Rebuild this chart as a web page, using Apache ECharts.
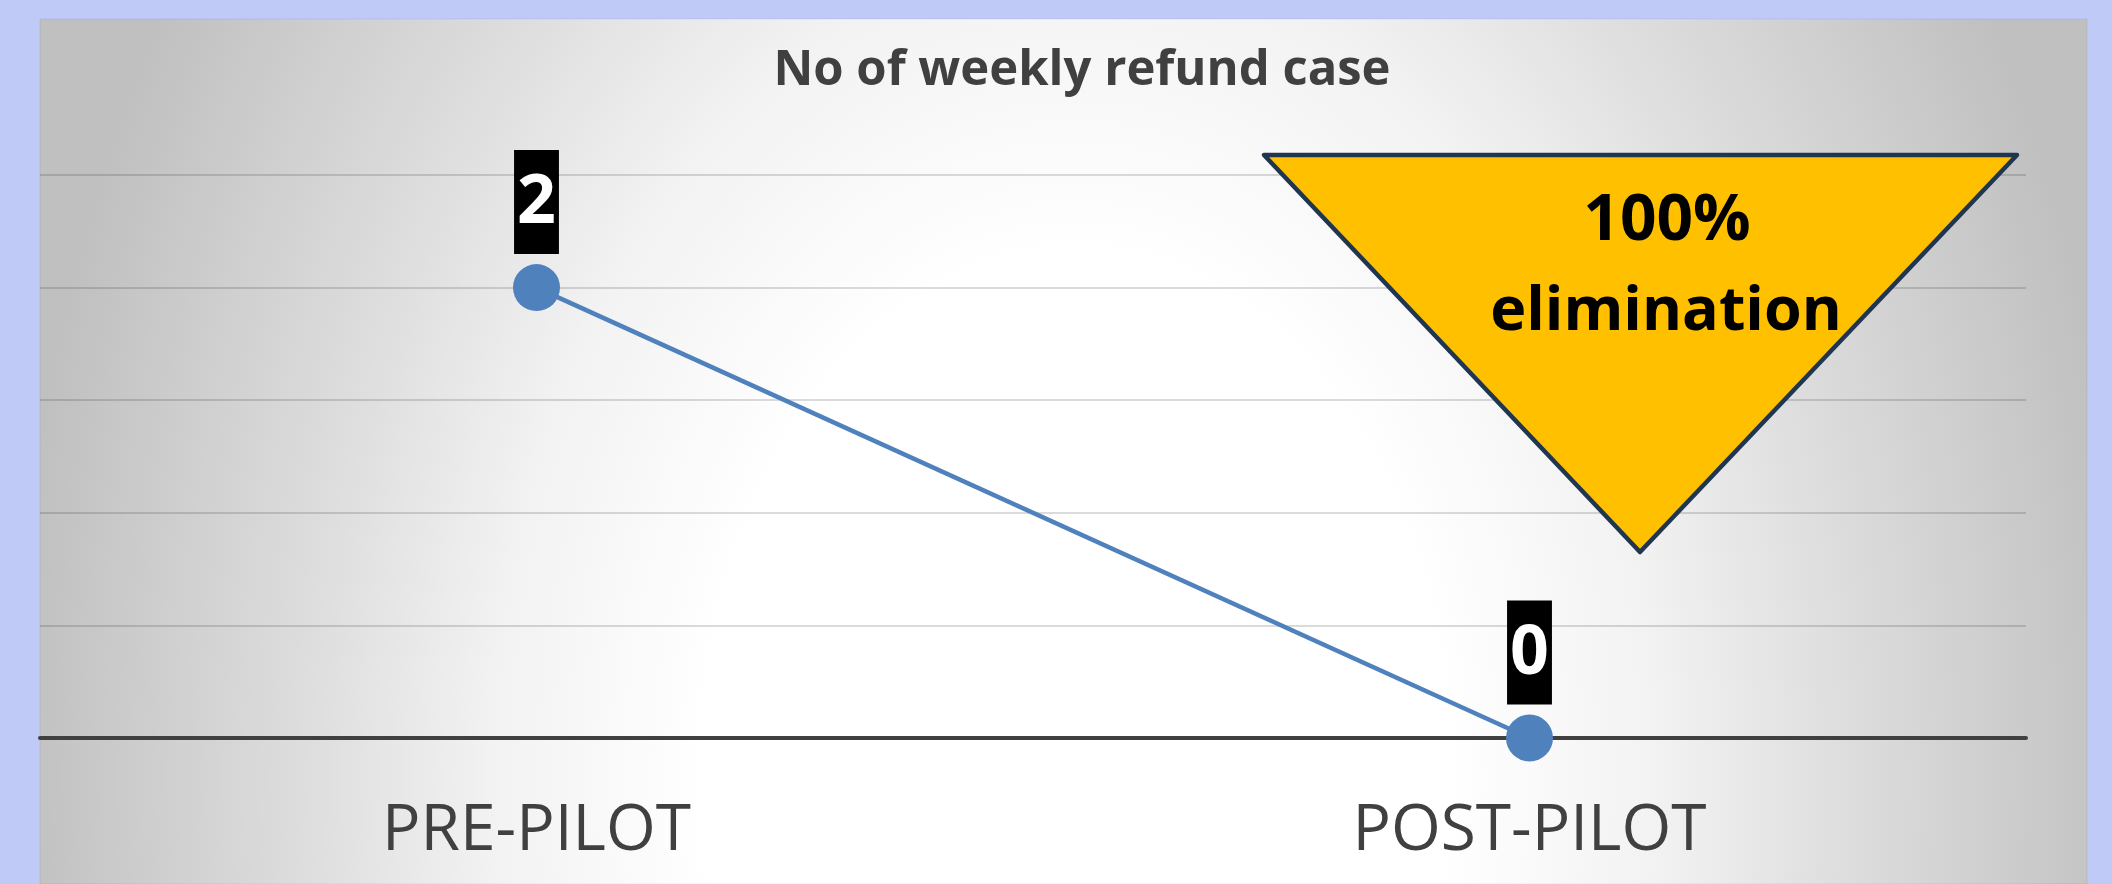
<!DOCTYPE html>
<html>
<head>
<meta charset="utf-8">
<script src="https://cdn.jsdelivr.net/npm/echarts@6/dist/echarts.min.js"></script>
<style>
  html, body { margin: 0; padding: 0; background: #bfcaf6; }
  #chart { width: 2112px; height: 884px; }
</style>
</head>
<body>
<div id="chart"></div>
<script>
// ---- data ----
const titleText = 'No of weekly refund case';
const categories = ['PRE-PILOT', 'POST-PILOT'];
const refundCases = [2, 0];
const yTicks = { min: 0, max: 2.5, interval: 0.5 };
const calloutLines = ['100%', 'elimination'];

// ---- layout / style ----
const W = 2112, H = 884;
const panel = { x: 40, y: 19, w: 2047, h: 865 };
const sx = 1060 / 1500; // ellipse horizontal squeeze
const localW = panel.w / sx;

const chart = echarts.init(document.getElementById('chart'), null, { width: W, height: H });

const option = {
  backgroundColor: '#bfcaf6',
  animation: false,
  title: {
    text: titleText,
    left: 1082,
    top: 71,
    padding: 0,
    textAlign: 'center',
    textVerticalAlign: 'middle',
    textStyle: {
      fontFamily: 'Open Sans',
      fontWeight: 'bold',
      fontSize: 49,
      color: '#404040'
    }
  },
  grid: { left: 40, right: 86, top: 175, bottom: 146, containLabel: false },
  xAxis: {
    type: 'category',
    data: categories,
    boundaryGap: true,
    axisTick: { show: false },
    axisLine: { show: true, lineStyle: { color: '#404040', width: 4 } },
    axisLabel: {
      margin: 62,
      fontFamily: 'Open Sans',
      fontSize: 64,
      lineHeight: 64,
      color: '#404040'
    },
    splitLine: { show: false }
  },
  yAxis: {
    type: 'value',
    min: yTicks.min,
    max: yTicks.max,
    interval: yTicks.interval,
    axisLabel: { show: false },
    axisLine: { show: false },
    axisTick: { show: false },
    splitLine: { show: true, lineStyle: { color: 'rgba(0,0,0,0.14)', width: 2 } }
  },
  series: [{
    type: 'line',
    data: refundCases,
    symbol: 'circle',
    symbolSize: 47,
    lineStyle: { color: '#4f81bd', width: 4.5 },
    itemStyle: { color: '#4f81bd' },
    z: 3,
    label: {
      show: true,
      position: 'top',
      distance: 10,
      color: '#ffffff',
      backgroundColor: '#000000',
      fontFamily: 'Open Sans',
      fontWeight: 'bold',
      fontSize: 68,
      lineHeight: 96,
      padding: [6, 3, 2, 3]
    }
  }],
  graphic: [
    {
      type: 'rect',
      z: -100,
      silent: true,
      x: panel.x,
      y: panel.y,
      scaleX: sx,
      scaleY: 1,
      shape: { x: 0, y: 0, width: localW, height: panel.h },
      style: {
        fill: {
          type: 'radial',
          x: (1075 - panel.x) / panel.w,
          y: (780 - panel.y) / panel.h,
          r: 1500 / panel.h,
          colorStops: [
            { offset: 0, color: '#ffffff' },
            { offset: 0.35, color: '#ffffff' },
            { offset: 0.55, color: '#f2f2f2' },
            { offset: 0.72, color: '#dedede' },
            { offset: 1, color: '#c0c0c0' }
          ]
        },
        stroke: 'rgba(0,0,0,0.08)',
        lineWidth: 1
      }
    },
    {
      type: 'polygon',
      z: 100,
      silent: true,
      shape: { points: [[1264, 155], [2017, 155], [1640, 552]] },
      style: { fill: '#ffc000', stroke: '#1f3550', lineWidth: 4.5, lineJoin: 'round' }
    },
    {
      type: 'text',
      z: 101,
      silent: true,
      x: 1667,
      y: 222,
      style: {
        text: calloutLines[0],
        fontFamily: 'Open Sans',
        fontWeight: 'bold',
        fontSize: 64,
        fill: '#000000',
        align: 'center',
        verticalAlign: 'middle'
      }
    },
    {
      type: 'text',
      z: 101,
      silent: true,
      x: 1666,
      y: 313,
      style: {
        text: calloutLines[1],
        fontFamily: 'Open Sans',
        fontWeight: 'bold',
        fontSize: 61,
        fill: '#000000',
        align: 'center',
        verticalAlign: 'middle'
      }
    }
  ]
};

chart.setOption(option);
</script>
</body>
</html>
